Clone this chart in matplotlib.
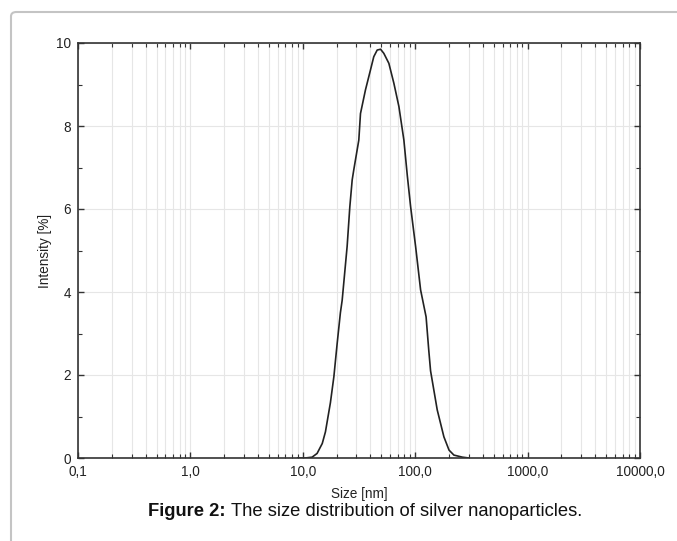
import matplotlib
matplotlib.use("Agg")
import matplotlib.pyplot as plt
from matplotlib.patches import FancyBboxPatch
from matplotlib.ticker import FixedLocator, FixedFormatter, LogLocator, MultipleLocator
import numpy as np

plt.rcParams['font.family'] = ['Liberation Sans', 'DejaVu Sans']

# size distribution
size_nm = [9.0, 10.5, 12.1, 13.4, 14.9, 15.9, 17.6, 18.9, 20.2, 21.6, 22.4, 24.8, 26.2,
           27.5, 28.4, 31.5, 32.6, 36.1, 40.0, 42.8, 45.9, 49.2, 52.6, 58.3, 64.6, 71.6,
           79.3, 85.1, 91.0, 100.9, 111.7, 125.0, 132.0, 137.0, 157.0, 180.0, 200.0,
           221.0, 263.0, 300.0]
intensity = [0.0, 0.0, 0.02, 0.11, 0.35, 0.63, 1.33, 1.96, 2.75, 3.5, 3.8, 5.1, 6.05,
             6.7, 6.94, 7.66, 8.3, 8.87, 9.35, 9.67, 9.83, 9.85, 9.75, 9.51, 9.03, 8.47,
             7.66, 6.8, 6.06, 5.09, 4.05, 3.4, 2.6, 2.1, 1.16, 0.51, 0.19, 0.07, 0.02, 0.0]

xticks = [0.1, 1, 10, 100, 1000, 10000]
xlabels = ['0,1', '1,0', '10,0', '100,0', '1000,0', '10000,0']
yticks = [0, 2, 4, 6, 8, 10]

fig = plt.figure(figsize=(6.77, 5.41), dpi=100)
ax = fig.add_axes([78 / 677, 1 - 458 / 541, (640 - 78) / 677, (458 - 43) / 541])

ax.plot(size_nm, intensity, color='#222222', lw=1.2)

ax.set_xscale('log')
ax.set_xlim(0.1, 10000)
ax.set_ylim(0, 10)
ax.xaxis.set_major_locator(FixedLocator(xticks))
ax.xaxis.set_major_formatter(FixedFormatter(xlabels))
ax.xaxis.set_minor_locator(LogLocator(base=10, subs=np.arange(2, 10)))
ax.xaxis.set_minor_formatter(FixedFormatter([]))
ax.set_yticks(yticks)
ax.yaxis.set_minor_locator(MultipleLocator(1))

ax.grid(True, which='both', axis='x', color='#e6e6e6', lw=0.8)
ax.grid(True, which='major', axis='y', color='#e6e6e6', lw=0.8)
ax.set_axisbelow(True)

ax.tick_params(which='both', direction='in', top=True, right=True, colors='#333333',
               labelcolor='#222222', labelsize=9.8, pad=5)
ax.tick_params(which='major', length=4, width=1)
ax.tick_params(which='minor', length=3, width=0.8)
for s in ax.spines.values():
    s.set_color('#333333')
    s.set_linewidth(1.2)

ax.set_xlabel('Size [nm]', fontsize=9.8, color='#222222', labelpad=6)
ax.set_ylabel('Intensity [%]', fontsize=9.8, color='#222222', labelpad=3)

# caption, bold lead-in then plain text, centred as a whole
cap_y = 1 - 511 / 541
t1 = fig.text(0, cap_y, 'Figure 2:', fontsize=13.2, fontweight='bold',
              va='center', ha='left', color='#111111')
t2 = fig.text(0, cap_y, 'The size distribution of silver nanoparticles.',
              fontsize=13.2, va='center', ha='left', color='#111111')
fig.canvas.draw()
w1 = t1.get_window_extent().width
w2 = t2.get_window_extent().width
x0 = 365 - (w1 + 5 + w2) / 2
t1.set_x(x0 / 677)
t2.set_x((x0 + w1 + 5) / 677)

# light page frame
frame = FancyBboxPatch((11 / 677, -0.05), 1.2, 1 - 12 / 541 + 0.05,
                       boxstyle='round,pad=0,rounding_size=0.008',
                       transform=fig.transFigure, fill=False,
                       edgecolor='#c4c4c4', lw=1.5, clip_on=False)
fig.patches.append(frame)

fig.savefig('out.png', dpi=100)
